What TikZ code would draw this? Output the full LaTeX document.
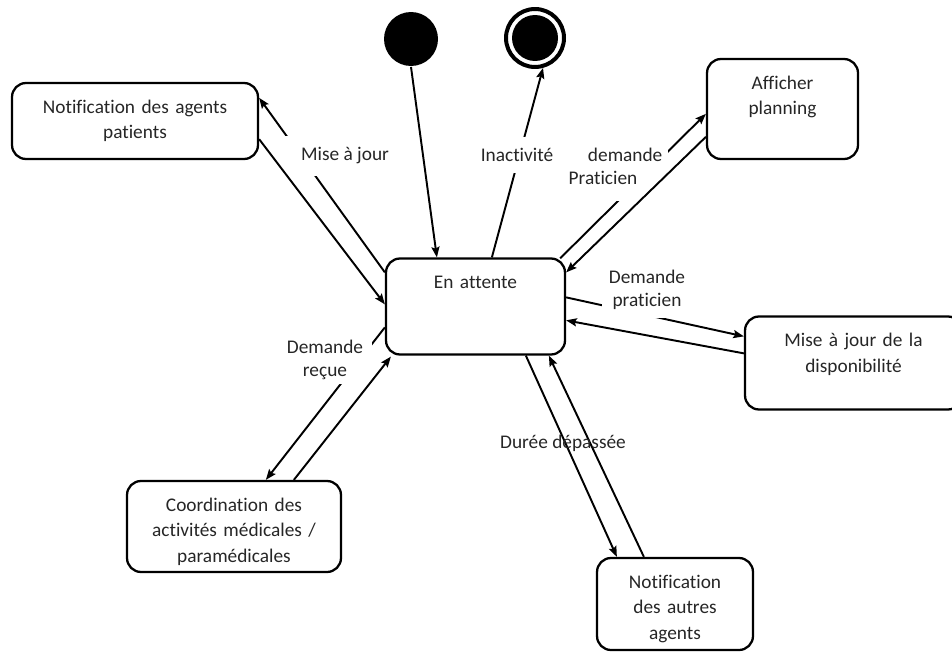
\documentclass[tikz,border=0pt]{standalone}
\usepackage{fontspec}
\setmainfont[Ligatures=NoCommon]{Carlito}
\usetikzlibrary{arrows.meta,calc}
\begin{document}
\begin{tikzpicture}[x=0.02cm, y=-0.02cm, line width=1.1pt, >={Stealth[length=6pt,width=4.6pt,inset=1pt]}, etat style/.style={rectangle, draw, rounded corners=0.28cm, line width=1.3pt, inner sep=0pt, align=center, text height=0.6cm, text=black!85, font=\fontsize{11}{14.7}\selectfont}, texte style/.style={align=center, text=black!85, font=\fontsize{11}{13.3}\selectfont}, blanc style/.style={texte style, fill=white}]
	\useasboundingbox (0,0) rectangle (952,652);
	\node[etat style, text width=3.58cm, text depth=1.32cm] (E1) at (475.5,306.5) {En attente};
	\node[etat style, text width=4.92cm, text depth=0.92cm] (E2) at (135,121) {Notification des agents\\patients};
	\node[etat style, text width=3.02cm, text depth=1.40cm] (E3) at (782.5,109) {Afficher\\planning};
	\node[etat style, text width=4.34cm, text depth=1.26cm] (E4) at (853.5,363) {Mise à jour de la\\disponibilité};
	\node[etat style, text width=4.28cm, text depth=1.22cm] (E5) at (234,526.5) {Coordination des\\activités médicales /\\paramédicales};
	\node[etat style, text width=3.12cm, text depth=1.24cm] (E6) at (675,604) {Notification\\des autres\\agents};
	\node[circle, fill=black, minimum size=1.08cm, inner sep=0pt] (E7) at (411,39) {};
	\node[circle, draw, line width=0.08cm, minimum size=1.16cm, inner sep=0pt] (E8) at (535,38) {};
	\fill (E8) circle (0.46cm);
	\draw[->] (E7.south) -- ($(E1.north west)+(52,0)$);
	\draw[->] ($(E1.north west)+(107,0)$) -- (E8.-75);
	\node[blanc style, inner sep=6.5pt] (L1) at (517,155) {Inactivité};
	\draw[->] ($(E1.north west)+(0,15)$) -- ($(E2.north east)+(0,16)$);
	\node[blanc style, inner xsep=9pt, inner ysep=6.5pt] (L2) at (345,156) {Mise à jour};
	\draw[->] ($(E2.south east)+(0,-21)$) -- ($(E1.north west)+(0,47)$);
	\draw[->] ($(E1.north east)+(-6,1)$) -- ($(E3.north west)+(0,56)$);
	\node[blanc style, align=left, inner xsep=3pt, inner ysep=9pt] (L3) at (615.5,166.5) {\hspace*{11pt}demande\\Praticien};
	\draw[->] ($(E3.north west)+(0,79)$) -- ($(E1.north east)+(0,15)$);
	\draw[->] ($(E1.north east)+(0,40)$) -- ($(E4.north west)+(0,21)$);
	\node[blanc style, inner xsep=4pt, inner ysep=4.5pt] (L4) at (647,290) {Demande\\praticien};
	\draw[->] ($(E4.north west)+(0,38)$) -- ($(E1.north east)+(0,63)$);
	\draw[->] ($(E1.north west)+(0,70)$) -- ($(E5.north west)+(140,0)$);
	\node[blanc style, inner xsep=5pt, inner ysep=2pt] (L5) at (325,360) {Demande\\reçue};
	\draw[->] ($(E5.north west)+(168,0)$) -- ($(E1.south west)+(6,1)$);
	\draw[->] ($(E1.south west)+(141,0)$) -- ($(E6.north west)+(21,0)$);
	\draw[->] ($(E6.north west)+(48,0)$) -- ($(E1.south west)+(164,0)$);
	\node[texte style] (L6) at (563,443) {Durée dépassée};
\end{tikzpicture}
\end{document}
